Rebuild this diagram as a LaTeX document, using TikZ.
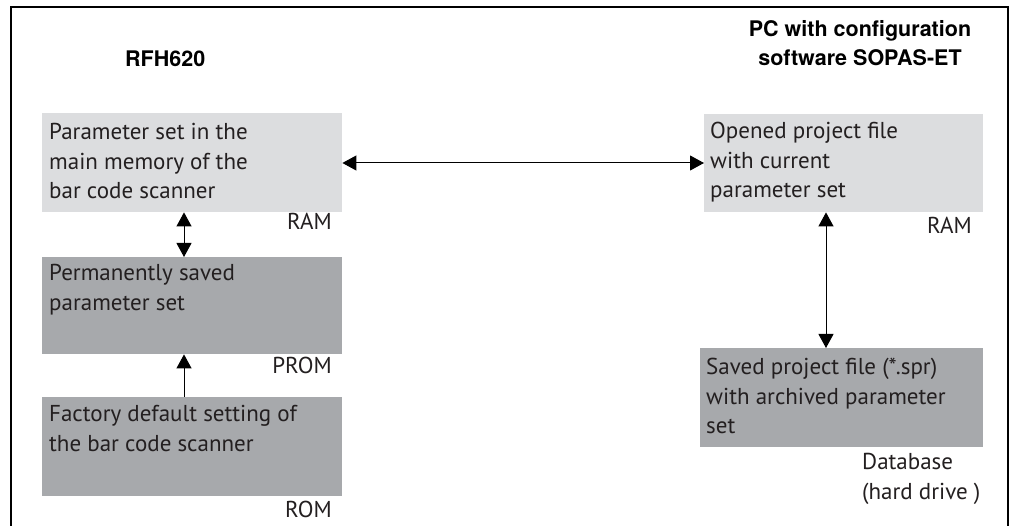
\documentclass[tikz,border=0pt]{standalone}
\usepackage{fontspec}
\setmainfont{PT Sans}
\newfontfamily\titlefont{TeX Gyre Heros}
\usetikzlibrary{arrows.meta}
\definecolor{lightbox}{RGB}{220,221,223}
\definecolor{darkbox}{RGB}{167,169,172}
\definecolor{txt}{RGB}{35,31,32}
\begin{document}
\begin{tikzpicture}[x=1pt,y=-1pt,
  boxbase/.style={draw=none, anchor=north west, inner sep=0, minimum width=#1},
  lbox/.style={boxbase=#1, fill=lightbox},
  dbox/.style={boxbase=#1, fill=darkbox},
  body/.style={inner sep=0, align=left, text=txt, font=\fontsize{23}{29.5}\selectfont},
  ttl/.style={inner sep=0, text=black, font=\titlefont\bfseries\fontsize{21.5}{29}\selectfont},
  tip/.tip={Triangle[width=15pt,length=14pt]},
  arr/.style={-tip, line width=1pt},
  dbl/.style={tip-tip, line width=1pt}]
\useasboundingbox (0,0) rectangle (1015,526);
\fill[white] (0,0) rectangle (1015,526);
% frame
\draw[line width=1.8pt] (11,540) -- (11,7) -- (1008,7) -- (1008,540);
% titles (base anchor = last line)
\node[ttl, anchor=base west] (rfh) at (125,67) {RFH620};
\node[ttl, anchor=base, align=center] (pc) at (860,66) {PC with configuration\\software SOPAS-ET};
% boxes
\node[lbox=300pt, minimum height=99pt] (ram1) at (42,113) {};
\node[dbox=300pt, minimum height=97pt] (prom) at (42,257) {};
\node[dbox=300pt, minimum height=99pt] (rom) at (42,397) {};
\node[lbox=279pt, minimum height=98pt] (ram2) at (704,114) {};
\node[dbox=283pt, minimum height=99pt] (db) at (700,348) {};
% box texts (base anchor = last line)
\node[body, anchor=base west] (ram1t) at (49,199) {Parameter set in the\\main memory of the\\bar code scanner};
\node[body, anchor=base west] (promt) at (49,310.5) {Permanently saved\\parameter set};
\node[body, anchor=base west] (romt) at (49,451.5) {Factory default setting of\\the bar code scanner};
\node[body, anchor=base west] (ram2t) at (710,198) {Opened project file\\with current\\parameter set};
\node[body, anchor=base west] (dbt) at (706,434) {Saved project file (*.spr)\\with archived parameter\\set};
% memory labels
\node[body, anchor=base east] (ram1l) at (332,230) {RAM};
\node[body, anchor=base east] (proml) at (332,374) {PROM};
\node[body, anchor=base east] (roml) at (332,517) {ROM};
\node[body, anchor=base east] (ram2l) at (972,234) {RAM};
\node[body, anchor=base west] (dbl) at (862,499.5) {Database\\(hard drive )};
% connectors
\draw[dbl] (184,0 |- ram1.south) -- (184,0 |- prom.north);
\draw[arr] (184,0 |- rom.north) -- (184,0 |- prom.south);
\draw[dbl] (ram1.east |- 0,163) -- (ram2.west |- 0,163);
\draw[dbl] (826,0 |- ram2.south) -- (826,0 |- db.north);
\end{tikzpicture}
\end{document}
